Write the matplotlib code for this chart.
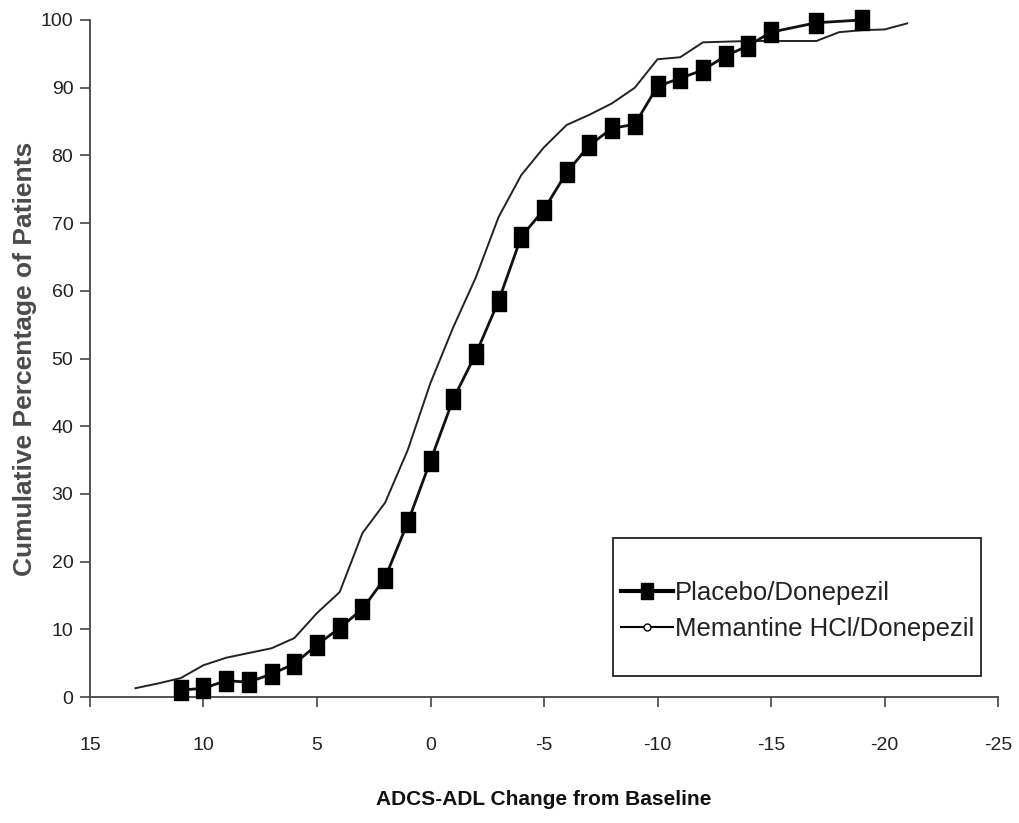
import matplotlib
matplotlib.use("Agg")
import matplotlib.pyplot as plt
from matplotlib.path import Path
from matplotlib.lines import Line2D
from matplotlib.patches import Rectangle

plt.rcParams['font.family'] = ['Liberation Sans', 'DejaVu Sans']

# Data
placebo_x = [11, 10, 9, 8, 7, 6, 5, 4, 3, 2, 1, 0, -1, -2, -3, -4, -5, -6, -7, -8,
             -9, -10, -11, -12, -13, -14, -15, -17, -19]
placebo_y = [1.0, 1.3, 2.4, 2.2, 3.4, 4.9, 7.7, 10.2, 13.0, 17.6, 25.8, 34.9, 44.0,
             50.7, 58.5, 68.0, 72.0, 77.5, 81.5, 84.0, 84.6, 90.2, 91.4, 92.6, 94.7,
             96.2, 98.2, 99.6, 100.0]

memantine_x = [13, 12, 11, 10, 9, 8, 7, 6, 5, 4, 3, 2, 1, 0, -1, -2, -3, -4, -5, -6,
               -7, -8, -9, -10, -11, -12, -13, -14, -15, -16, -17, -18, -19, -20, -21]
memantine_y = [1.3, 2.0, 2.8, 4.7, 5.8, 6.5, 7.2, 8.7, 12.4, 15.5, 24.2, 28.7, 36.5,
               46.4, 54.6, 62.0, 70.9, 77.1, 81.2, 84.5, 86.0, 87.7, 90.0, 94.2, 94.5,
               96.7, 96.8, 96.9, 96.9, 96.9, 96.9, 98.2, 98.5, 98.6, 99.5]

x_ticks = [15, 10, 5, 0, -5, -10, -15, -20, -25]
y_ticks = [0, 10, 20, 30, 40, 50, 60, 70, 80, 90, 100]

W, H = 1019, 823
L, R, T, B = 90, 998, 20, 697
fig = plt.figure(figsize=(W / 100, H / 100), dpi=100)
ax = fig.add_axes([L / W, 1 - B / H, (R - L) / W, (B - T) / H])

rect = Path([(-0.38, -0.5), (0.38, -0.5), (0.38, 0.5), (-0.38, 0.5), (-0.38, -0.5)],
            [Path.MOVETO, Path.LINETO, Path.LINETO, Path.LINETO, Path.CLOSEPOLY])

ax.plot(memantine_x, memantine_y, color='#222222', lw=1.4,
        label='Memantine HCl/Donepezil', zorder=2, clip_on=False)
ax.plot(placebo_x, placebo_y, color='#111111', lw=2.0, marker=rect, markersize=14,
        markerfacecolor='black', markeredgecolor='black', label='Placebo/Donepezil',
        zorder=3, clip_on=False)

ax.set_xlim(15, -25)
ax.set_ylim(0, 100)
ax.set_xticks(x_ticks)
ax.set_xticklabels([str(t) for t in x_ticks])
ax.set_yticks(y_ticks)
ax.set_yticklabels([str(t) for t in y_ticks])

for s in ['top', 'right']:
    ax.spines[s].set_visible(False)
for s in ['left', 'bottom']:
    ax.spines[s].set_color('#444444')
    ax.spines[s].set_linewidth(1.3)

ax.tick_params(axis='both', direction='out', length=7, width=1.2, color='#444444',
               labelsize=14, labelcolor='#222222')
ax.tick_params(axis='x', pad=22)
ax.tick_params(axis='y', pad=5)

ax.set_xlabel('ADCS-ADL Change from Baseline', fontsize=15, fontweight='bold',
              labelpad=26, color='#111111')
ax.set_ylabel('Cumulative Percentage of Patients', fontsize=19, fontweight='bold',
              labelpad=3, color='#4a4a4a')


def ax_x(px):
    return (px - L) / (R - L)


def ax_y(py):
    return (B - py) / (B - T)


# Legend frame
frame = Rectangle((ax_x(613), ax_y(676)), ax_x(981) - ax_x(613), ax_y(538) - ax_y(676),
                  transform=ax.transAxes, fill=True, facecolor='white',
                  edgecolor='#222222', linewidth=1.3, zorder=5, clip_on=False)
ax.add_patch(frame)

h1 = Line2D([], [], color='black', lw=3, marker=rect, markersize=12,
            markerfacecolor='black', markeredgecolor='black')
h2 = Line2D([], [], color='black', lw=1.5, marker='o', markersize=5,
            markerfacecolor='white', markeredgecolor='black')
leg = ax.legend([h1, h2], ['Placebo/Donepezil', 'Memantine HCl/Donepezil'],
                loc='upper left', bbox_to_anchor=(ax_x(616), ax_y(576)),
                fontsize=18.5, frameon=False, handlelength=2.0,
                handletextpad=0.1, borderpad=0.2, labelspacing=0.45, borderaxespad=0)
leg.set_zorder(6)
for t in leg.get_texts():
    t.set_color('#222222')

fig.savefig('out.png', dpi=100)
